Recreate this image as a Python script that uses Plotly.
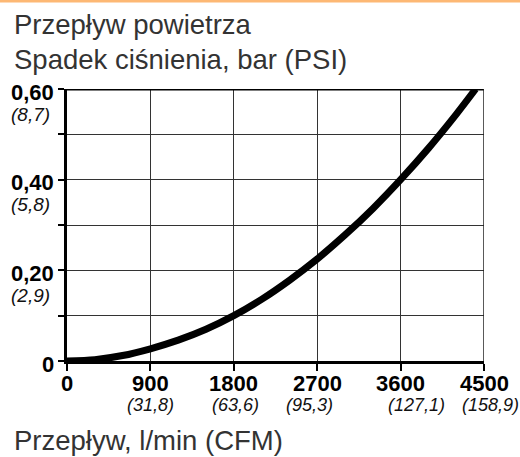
import plotly.graph_objects as go

# ---- data ----
flow_lpm = [0, 300, 600, 900, 1200, 1500, 1800, 2100, 2400, 2700, 3000, 3300, 3600, 3900, 4200, 4410]
drop_bar = [0, 0.003, 0.012, 0.027, 0.046, 0.070, 0.100, 0.136, 0.178, 0.225, 0.278, 0.336, 0.400, 0.469, 0.544, 0.600]

x_ticks = [0, 900, 1800, 2700, 3600, 4500]
x_tick_labels = ["0", "900", "1800", "2700", "3600", "4500"]
x_sub_labels = ["", "(31,8)", "(63,6)", "(95,3)", "(127,1)", "(158,9)"]
x_sub_shift = [0, 0, 2, -8, 16, 6]

y_ticks = [0, 0.2, 0.4, 0.6]
y_tick_labels = ["0", "0,20", "0,40", "0,60"]
y_sub_labels = ["", "(2,9)", "(5,8)", "(8,7)"]

title_top = "Przepływ powietrza"
y_title = "Spadek ciśnienia, bar (PSI)"
x_title = "Przepływ, l/min (CFM)"

# ---- layout geometry ----
W, H = 520, 457
ML, MR, MT, MB = 67, 36, 89, 96
PW, PH = W - ML - MR, H - MT - MB

def px_x(p):
    return (p - ML) / PW

def px_y(p):
    return 1 - (p - MT) / PH

FONT = "Arial, Liberation Sans, sans-serif"

fig = go.Figure()
fig.add_trace(go.Scatter(x=flow_lpm, y=drop_bar, mode="lines",
                         line=dict(color="black", width=7, shape="spline", smoothing=0.8),
                         hoverinfo="skip"))

ann = []
for v, t in zip(x_ticks, x_tick_labels):
    ann.append(dict(x=v, xref="x", y=0, yref="paper", yanchor="middle", xanchor="center",
                    yshift=-22, text="<b>%s</b>" % t, showarrow=False,
                    font=dict(family=FONT, size=22, color="black")))
for v, t, s in zip(x_ticks, x_sub_labels, x_sub_shift):
    if t:
        ann.append(dict(x=v, xref="x", y=0, yref="paper", yanchor="middle", xanchor="center",
                        yshift=-44, xshift=s, text="<i>%s</i>" % t, showarrow=False,
                        font=dict(family=FONT, size=18, color="#111")))
for v, t in zip(y_ticks, y_tick_labels):
    ann.append(dict(x=px_x(56), xref="paper", y=v, yref="y", xanchor="right", yanchor="middle",
                    yshift=-3, text="<b>%s</b>" % t, showarrow=False,
                    font=dict(family=FONT, size=22, color="black")))
for v, t in zip(y_ticks, y_sub_labels):
    if t:
        ann.append(dict(x=px_x(52), xref="paper", y=v, yref="y", xanchor="right", yanchor="middle",
                        yshift=-25, text="<i>%s</i>" % t, showarrow=False,
                        font=dict(family=FONT, size=19, color="#111")))

for txt, yp in [(title_top, 25), (y_title, 60), (x_title, 440)]:
    ann.append(dict(x=px_x(12), xref="paper", y=px_y(yp), yref="paper", xanchor="left",
                    yanchor="middle", text=txt, showarrow=False,
                    font=dict(family=FONT, size=27.5, color="#333")))

shapes = [
    # orange top rule
    dict(type="rect", xref="paper", yref="paper", x0=px_x(0), x1=px_x(W),
         y0=px_y(0), y1=px_y(2.5), fillcolor="#FDB874", line=dict(width=0), layer="above"),
    # top border
    dict(type="line", xref="x", yref="y", x0=0, x1=4500, y0=0.6, y1=0.6,
         line=dict(color="black", width=3)),
    # right border
    dict(type="line", xref="x", yref="y", x0=4500, x1=4500, y0=0, y1=0.6,
         line=dict(color="#222", width=1.5)),
]

fig.update_layout(
    width=W, height=H,
    margin=dict(l=ML, r=MR, t=MT, b=MB, pad=0),
    paper_bgcolor="white", plot_bgcolor="white",
    showlegend=False,
    annotations=ann, shapes=shapes,
    xaxis=dict(range=[0, 4500], tickmode="linear", tick0=0, dtick=900,
               showticklabels=False, ticks="outside", ticklen=7, tickwidth=1.5, tickcolor="black",
               showgrid=True, gridcolor="#333", gridwidth=1.3,
               showline=True, linecolor="black", linewidth=2.5, zeroline=False, fixedrange=True),
    yaxis=dict(range=[0, 0.6], tickmode="linear", tick0=0, dtick=0.1,
               showticklabels=False, ticks="outside", ticklen=6, tickwidth=1.5, tickcolor="black",
               showgrid=True, gridcolor="#333", gridwidth=1.3,
               showline=True, linecolor="black", linewidth=2.5, zeroline=False, fixedrange=True),
)

fig.write_html("out.html", config={"displayModeBar": False},
               post_script="document.body.style.margin='0';document.body.style.padding='0';")
